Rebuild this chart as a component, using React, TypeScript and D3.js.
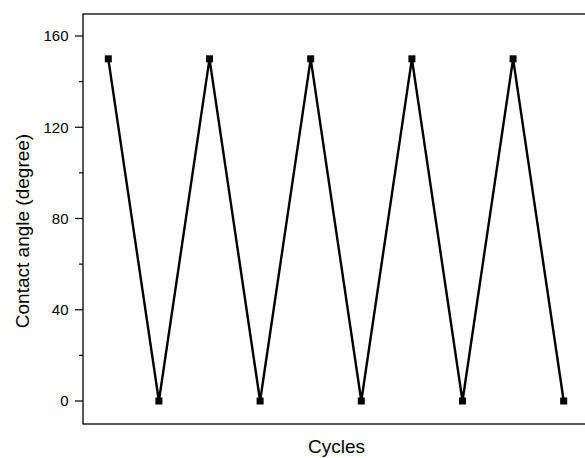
import React from "react";
import * as d3 from "d3";

const cycles = [1, 2, 3, 4, 5, 6, 7, 8, 9, 10];
const angles = [150, 0, 150, 0, 150, 0, 150, 0, 150, 0];
const yTicks = [0, 40, 80, 120, 160];
const yMinorTicks = [20, 60, 100, 140];

const W = 585;
const H = 458;
const left = 83;
const right = 589;
const top = 14;
const bottom = 424;

export default function App() {
  const x = d3.scaleLinear().domain([0.5, 10.5]).range([left, right]);
  const y = d3.scaleLinear().domain([0, 160]).range([401, 36]);
  const line = d3
    .line<number>()
    .x((_, i) => x(cycles[i]))
    .y((d) => y(d));
  const font = "'Liberation Sans', Arial, sans-serif";
  return (
    <svg
      width={W}
      height={H}
      style={{ position: "absolute", left: 0, top: 0, background: "#fff" }}
    >
      <rect x={0} y={0} width={W} height={H} fill="#fff" />
      <rect
        x={left}
        y={top}
        width={right - left}
        height={bottom - top}
        fill="none"
        stroke="#000"
        strokeWidth={1.3}
      />
      {yTicks.map((t) => (
        <g key={t}>
          <line x1={left - 8} x2={left} y1={y(t)} y2={y(t)} stroke="#000" strokeWidth={1.2} />
          <text
            x={68.5}
            y={y(t)}
            dy="0.36em"
            textAnchor="end"
            fontFamily={font}
            fontSize={15}
            fill="#000"
          >
            {t}
          </text>
        </g>
      ))}
      {yMinorTicks.map((t) => (
        <line key={t} x1={left - 4} x2={left} y1={y(t)} y2={y(t)} stroke="#000" strokeWidth={1.2} />
      ))}
      <path d={line(angles) || ""} fill="none" stroke="#000" strokeWidth={2.4} strokeLinejoin="miter" />
      {angles.map((v, i) => (
        <rect key={i} x={x(cycles[i]) - 3.5} y={y(v) - 3.5} width={7} height={7} fill="#000" />
      ))}
      <text
        x={336.5}
        y={453}
        textAnchor="middle"
        fontFamily={font}
        fontSize={19}
        fill="#000"
      >
        Cycles
      </text>
      <text
        transform={`translate(28.5, 231) rotate(-90)`}
        textAnchor="middle"
        fontFamily={font}
        fontSize={19}
        fill="#000"
      >
        Contact angle (degree)
      </text>
    </svg>
  );
}
